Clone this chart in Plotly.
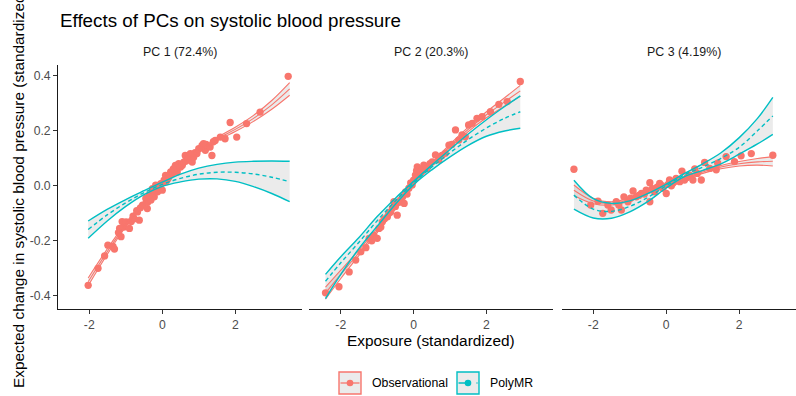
import plotly.graph_objects as go

W, H = 796, 396
OBS = "#F8766D"
PMR = "#00BFC4"
FONT = "Liberation Sans, Arial, sans-serif"

panel_titles = ["PC 1 (72.4%)", "PC 2 (20.3%)", "PC 3 (4.19%)"]
x_ticks = [-2, 0, 2]
y_ticks = [-0.4, -0.2, 0.0, 0.2, 0.4]
y_tick_labels = ["-0.4", "-0.2", "0.0", "0.2", "0.4"]

# ---- Panel 1 data ----
p1_pt_x = [-2.03, -1.76, -1.58, -1.49, -1.35, -1.31, -1.2, -1.17, -1.13, -1.1, -1.05, -0.99, -0.9, -0.85,
           -0.8, -0.77, -0.7, -0.68, -0.63, -0.6, -0.54, -0.45, -0.41, -0.4, -0.36, -0.35, -0.31, -0.3,
           -0.27, -0.25, -0.22, -0.2, -0.18, -0.15, -0.13, -0.1, -0.09, -0.05, -0.04, 0.0, 0.05, 0.09,
           0.1, 0.15, 0.18, 0.2, 0.23, 0.28, 0.3, 0.32, 0.36, 0.4, 0.41, 0.45, 0.5, 0.55, 0.59, 0.63,
           0.65, 0.7, 0.72, 0.77, 0.82, 0.86, 0.9, 0.95, 1.0, 1.09, 1.13, 1.18, 1.2, 1.31, 1.36, 1.4,
           1.45, 1.59, 1.72, 1.86, 2.04, 2.31, 2.68, 3.45]
p1_pt_y = [-0.362, -0.30, -0.255, -0.216, -0.22, -0.23, -0.17, -0.155, -0.185, -0.13, -0.15, -0.131,
           -0.155, -0.13, -0.11, -0.12, -0.09, -0.095, -0.125, -0.08, -0.07, -0.046, -0.083, -0.06,
           -0.034, -0.045, -0.052, -0.03, -0.01, -0.02, -0.04, -0.015, 0.002, -0.01, -0.022, 0.0,
           -0.004, -0.01, 0.008, -0.016, 0.02, 0.038, 0.015, 0.025, 0.032, 0.04, 0.05, 0.045, 0.06,
           0.062, 0.074, 0.065, 0.05, 0.08, 0.068, 0.075, 0.086, 0.11, 0.09, 0.1, 0.098, 0.117, 0.086,
           0.104, 0.12, 0.117, 0.135, 0.147, 0.153, 0.129, 0.15, 0.141, 0.11, 0.16, 0.165, 0.177,
           0.171, 0.23, 0.177, 0.226, 0.268, 0.398]
p1_fx = [-2.03, -1.5, -1.0, -0.5, 0.0, 0.5, 1.0, 1.5, 2.0, 2.5, 3.0, 3.49]
p1_obs = [-0.349, -0.238, -0.142, -0.060, 0.0, 0.068, 0.125, 0.170, 0.205, 0.245, 0.294, 0.352]
p1_obs_hw = [0.014, 0.010, 0.007, 0.005, 0.004, 0.004, 0.005, 0.006, 0.008, 0.011, 0.016, 0.023]
p1_pmr = [-0.159, -0.105, -0.062, -0.025, 0.005, 0.027, 0.042, 0.049, 0.049, 0.043, 0.031, 0.015]
p1_pmr_hi = [-0.128, -0.085, -0.050, -0.018, 0.013, 0.042, 0.064, 0.078, 0.086, 0.089, 0.090, 0.089]
p1_pmr_lo = [-0.191, -0.127, -0.075, -0.032, -0.002, 0.014, 0.024, 0.025, 0.016, -0.003, -0.028, -0.058]

# ---- Panel 2 data ----
p2_pt_x = [-2.42, -2.05, -1.77, -1.59, -1.45, -1.31, -1.22, -1.15, -1.09, -1.0, -0.95, -0.9, -0.86,
           -0.8, -0.72, -0.68, -0.63, -0.58, -0.54, -0.5, -0.45, -0.4, -0.36, -0.3, -0.26, -0.22,
           -0.18, -0.13, -0.08, -0.04, 0.0, 0.05, 0.08, 0.1, 0.15, 0.19, 0.24, 0.28, 0.33, 0.37, 0.45,
           0.51, 0.6, 0.69, 0.78, 0.87, 0.97, 1.05, 1.15, 1.24, 1.33, 1.42, 1.51, 1.61, 1.74, 1.88,
           2.11, 2.34, 2.57, 2.93]
p2_pt_y = [-0.389, -0.367, -0.313, -0.27, -0.24, -0.225, -0.191, -0.2, -0.18, -0.191, -0.155, -0.15,
           -0.131, -0.12, -0.113, -0.1, -0.095, -0.08, -0.058, -0.075, -0.107, -0.06, -0.052, -0.04,
           -0.064, -0.022, -0.03, -0.009, 0.01, 0.003, 0.02, 0.039, 0.055, 0.069, 0.05, 0.051, 0.06,
           0.075, 0.07, 0.063, 0.08, 0.087, 0.112, 0.094, 0.11, 0.118, 0.148, 0.15, 0.203, 0.166,
           0.185, 0.178, 0.221, 0.227, 0.245, 0.251, 0.269, 0.296, 0.306, 0.379]
p2_fx = [-2.42, -2.0, -1.5, -1.0, -0.5, 0.0, 0.5, 1.0, 1.5, 2.0, 2.5, 2.93]
p2_obs = [-0.39, -0.322, -0.243, -0.163, -0.08, 0.005, 0.078, 0.145, 0.205, 0.258, 0.305, 0.345]
p2_obs_hw = [0.022, 0.015, 0.01, 0.007, 0.005, 0.004, 0.005, 0.006, 0.008, 0.011, 0.015, 0.02]
p2_pmr = [-0.347, -0.28, -0.205, -0.127, -0.055, 0.01, 0.068, 0.12, 0.168, 0.21, 0.245, 0.269]
p2_pmr_hi = [-0.322, -0.258, -0.188, -0.112, -0.045, 0.016, 0.075, 0.132, 0.188, 0.24, 0.288, 0.327]
p2_pmr_lo = [-0.41, -0.322, -0.228, -0.147, -0.067, 0.004, 0.058, 0.105, 0.147, 0.18, 0.199, 0.209]

# ---- Panel 3 data ----
p3_pt_x = [-2.53, -2.07, -1.87, -1.74, -1.6, -1.51, -1.37, -1.3, -1.23, -1.16, -1.05, -0.98, -0.91,
           -0.82, -0.75, -0.68, -0.6, -0.55, -0.45, -0.45, -0.38, -0.32, -0.25, -0.18, -0.12, -0.09,
           0.0, 0.05, 0.09, 0.14, 0.18, 0.22, 0.27, 0.32, 0.37, 0.43, 0.5, 0.57, 0.64, 0.73, 0.78,
           0.85, 0.96, 1.05, 1.19, 1.37, 1.41, 1.64, 1.87, 2.05, 2.33, 2.92]
p3_pt_y = [0.06, -0.07, -0.056, -0.1, -0.07, -0.088, -0.058, -0.07, -0.088, -0.04, -0.058, -0.045,
           -0.019, -0.04, -0.035, -0.028, -0.03, -0.016, -0.058, 0.011, -0.01, -0.022, -0.005, 0.009,
           0.0, -0.009, -0.028, 0.005, 0.021, 0.0, 0.009, 0.015, 0.027, 0.02, 0.015, 0.053, 0.021,
           0.03, 0.039, 0.021, 0.061, 0.045, 0.021, 0.085, 0.063, 0.058, 0.082, 0.106, 0.088, 0.109,
           0.117, 0.111]
p3_fx = [-2.53, -2.0, -1.5, -1.0, -0.5, 0.0, 0.5, 1.0, 1.5, 2.0, 2.5, 2.92]
p3_obs = [-0.016, -0.055, -0.064, -0.05, -0.025, 0.0, 0.025, 0.05, 0.068, 0.08, 0.087, 0.089]
p3_obs_hw = [0.019, 0.01, 0.006, 0.005, 0.004, 0.004, 0.004, 0.005, 0.006, 0.008, 0.012, 0.017]
p3_pmr = [-0.034, -0.085, -0.093, -0.075, -0.042, 0.0, 0.04, 0.068, 0.1, 0.14, 0.2, 0.254]
p3_pmr_hi = [0.02, -0.047, -0.064, -0.055, -0.028, 0.006, 0.045, 0.08, 0.12, 0.175, 0.245, 0.321]
p3_pmr_lo = [-0.085, -0.117, -0.118, -0.095, -0.057, -0.008, 0.033, 0.056, 0.08, 0.115, 0.152, 0.187]

panels = [
    (p1_pt_x, p1_pt_y, p1_fx, p1_obs, p1_obs_hw, p1_pmr, p1_pmr_hi, p1_pmr_lo),
    (p2_pt_x, p2_pt_y, p2_fx, p2_obs, p2_obs_hw, p2_pmr, p2_pmr_hi, p2_pmr_lo),
    (p3_pt_x, p3_pt_y, p3_fx, p3_obs, p3_obs_hw, p3_pmr, p3_pmr_hi, p3_pmr_lo),
]

# layout geometry (pixels)
panel_px = [(57.7, 301.7), (309.3, 552.7), (561.7, 796.0)]
x_ranges = [[-2.865, 3.82], [-2.865, 3.82], [-2.865, 3.555]]
y_range = [-0.449, 0.439]
y_top_px, y_bot_px = 65.0, 309.3

RIB = "rgba(153,153,153,0.2)"
TICK_FS = 12.2
STRIP_FS = 12.4
AXT_FS = 15.4

fig = go.Figure()
for i, (px, py, fx, obs, hw, pmr, phi, plo) in enumerate(panels):
    xa = "x" if i == 0 else f"x{i+1}"
    ya = "y" if i == 0 else f"y{i+1}"
    obs_lo = [c - w for c, w in zip(obs, hw)]
    obs_hi = [c + w for c, w in zip(obs, hw)]
    common = dict(xaxis=xa, yaxis=ya, showlegend=False, hoverinfo="skip")
    # ribbons
    fig.add_trace(go.Scatter(x=fx, y=plo, mode="lines", line=dict(width=0, shape="spline"), **common))
    fig.add_trace(go.Scatter(x=fx, y=phi, mode="lines", line=dict(width=0, shape="spline"),
                             fill="tonexty", fillcolor=RIB, **common))
    fig.add_trace(go.Scatter(x=fx, y=obs_lo, mode="lines", line=dict(width=0, shape="spline"), **common))
    fig.add_trace(go.Scatter(x=fx, y=obs_hi, mode="lines", line=dict(width=0, shape="spline"),
                             fill="tonexty", fillcolor=RIB, **common))
    # points
    fig.add_trace(go.Scatter(x=px, y=py, mode="markers",
                             marker=dict(size=7.3, color=OBS, line=dict(width=0)), **common))
    # observational lines
    for yy in (obs_lo, obs_hi, obs):
        fig.add_trace(go.Scatter(x=fx, y=yy, mode="lines",
                                 line=dict(color=OBS, width=1.1, shape="spline"), **common))
    # polyMR lines
    for yy in (plo, phi):
        fig.add_trace(go.Scatter(x=fx, y=yy, mode="lines",
                                 line=dict(color=PMR, width=1.4, shape="spline"), **common))
    fig.add_trace(go.Scatter(x=fx, y=pmr, mode="lines",
                             line=dict(color=PMR, width=1.4, dash="4px,3px", shape="spline"), **common))

layout = dict(
    width=W, height=H,
    margin=dict(l=0, r=0, t=0, b=0, autoexpand=False),
    paper_bgcolor="white", plot_bgcolor="white",
    font=dict(family=FONT, color="#4D4D4D"),
    showlegend=False,
)
ydom = [1 - y_bot_px / H, 1 - y_top_px / H]
for i in range(3):
    xk = "xaxis" if i == 0 else f"xaxis{i+1}"
    yk = "yaxis" if i == 0 else f"yaxis{i+1}"
    a, b = panel_px[i]
    layout[xk] = dict(
        domain=[a / W, b / W], range=x_ranges[i], anchor="y" if i == 0 else f"y{i+1}",
        showgrid=False, zeroline=False, showline=True, linecolor="#1a1a1a", linewidth=1.2,
        ticks="outside", ticklen=3.5, tickwidth=1, tickcolor="#333333",
        tickvals=x_ticks, ticktext=[str(t) for t in x_ticks],
        tickfont=dict(size=TICK_FS, color="#4D4D4D", family=FONT),
    )
    ydict = dict(
        domain=ydom, range=y_range, anchor="x" if i == 0 else f"x{i+1}",
        showgrid=False, zeroline=False,
    )
    if i == 0:
        ydict.update(showline=True, linecolor="#1a1a1a", linewidth=1.2,
                     ticks="outside", ticklen=3.5, tickwidth=1, tickcolor="#333333",
                     tickvals=y_ticks, ticktext=y_tick_labels,
                     tickfont=dict(size=TICK_FS, color="#4D4D4D", family=FONT))
    else:
        ydict.update(showline=False, showticklabels=False, ticks="")
    layout[yk] = ydict

fig.update_layout(**layout)

ann = []
ann.append(dict(text="Effects of PCs on systolic blood pressure", x=58 / W, y=1 - 21 / H,
                xref="paper", yref="paper", xanchor="left", yanchor="middle", showarrow=False,
                font=dict(size=18.8, color="#000000", family=FONT)))
for i, t in enumerate(panel_titles):
    a, b = panel_px[i]
    cx = (a + a + 244) / 2
    ann.append(dict(text=t, x=cx / W, y=1 - 52 / H, xref="paper", yref="paper",
                    xanchor="center", yanchor="middle", showarrow=False,
                    font=dict(size=STRIP_FS, color="#1A1A1A", family=FONT)))
ann.append(dict(text="Exposure (standardized)", x=431 / W, y=1 - 340 / H, xref="paper", yref="paper",
                xanchor="center", yanchor="middle", showarrow=False,
                font=dict(size=AXT_FS, color="#000000", family=FONT)))
ann.append(dict(text="Expected change in systolic blood pressure (standardized)", x=18 / W,
                y=1 - 189 / H, xref="paper", yref="paper", xanchor="center", yanchor="middle",
                textangle=-90, showarrow=False,
                font=dict(size=AXT_FS, color="#000000", family=FONT)))

# legend (drawn manually, ggplot style)
legend_items = [("Observational", OBS, "solid", 339.0), ("PolyMR", PMR, "dash", 457.0)]
shapes = []
for label, col, dash, x0 in legend_items:
    y0, y1 = 372.0, 394.0
    shapes.append(dict(type="rect", xref="paper", yref="paper", x0=x0 / W, x1=(x0 + 22) / W,
                       y0=1 - y1 / H, y1=1 - y0 / H, fillcolor="#EBEBEB",
                       line=dict(color=col, width=1.4)))
    ym = (y0 + y1) / 2
    shapes.append(dict(type="line", xref="paper", yref="paper", x0=(x0 + 1.5) / W, x1=(x0 + 20.5) / W,
                       y0=1 - ym / H, y1=1 - ym / H, line=dict(color=col, width=1.3, dash=dash)))
    r = 3.3
    shapes.append(dict(type="circle", xref="paper", yref="paper", x0=(x0 + 11 - r) / W,
                       x1=(x0 + 11 + r) / W, y0=1 - (ym + r) / H, y1=1 - (ym - r) / H,
                       fillcolor=col, line=dict(width=0)))
    ann.append(dict(text=label, x=(x0 + 31) / W, y=1 - ym / H, xref="paper", yref="paper",
                    xanchor="left", yanchor="middle", showarrow=False,
                    font=dict(size=12.3, color="#000000", family=FONT)))

fig.update_layout(annotations=ann, shapes=shapes)
fig.write_html("out.html")
